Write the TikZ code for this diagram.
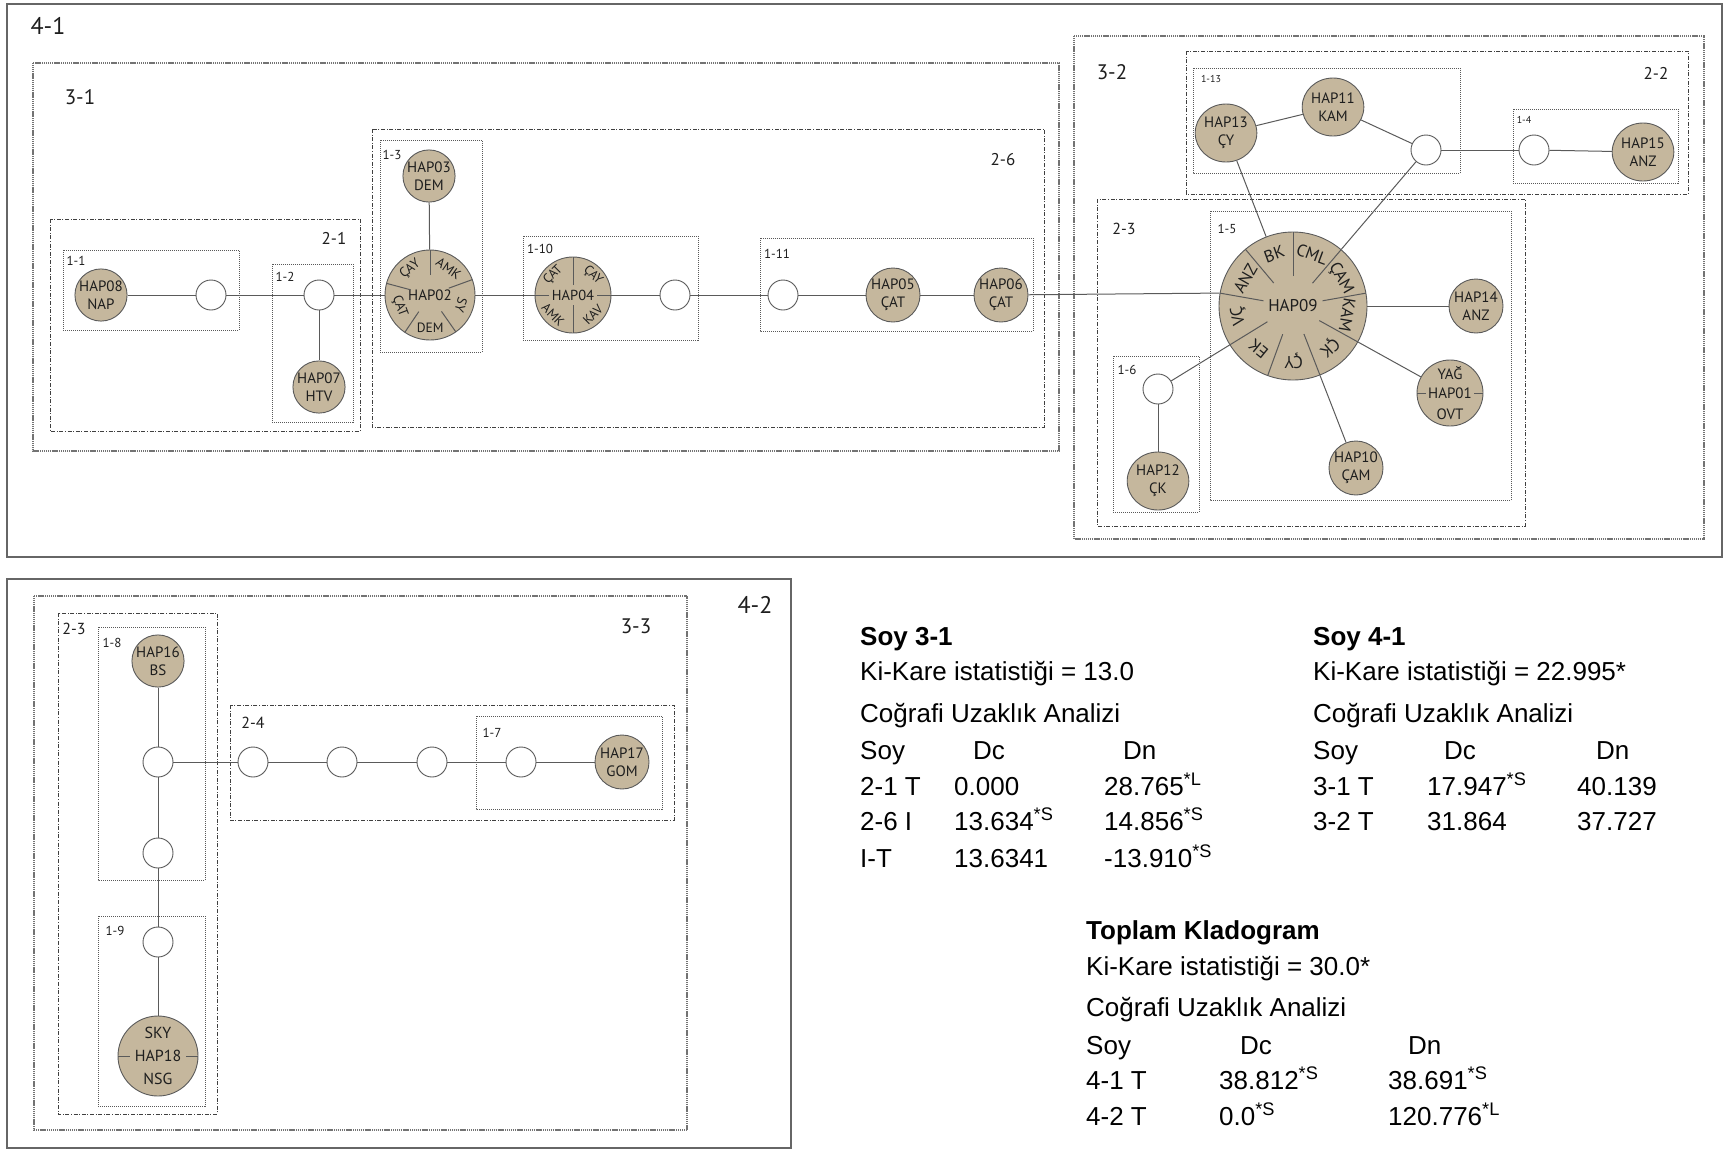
\documentclass[tikz,border=0pt]{standalone}
\usepackage{fontspec}
\setmainfont{PT Sans}
\newfontfamily\tabfont{Liberation Sans}
\usetikzlibrary{shapes.geometric}
\definecolor{tanf}{RGB}{197,183,157}
\definecolor{lnc}{RGB}{90,90,90}
\definecolor{txc}{RGB}{30,30,30}
\newcommand\fz[2]{\fontsize{#1}{#2}\selectfont}
\tikzset{
  hap/.style={circle, draw=lnc, fill=tanf, line width=0.9pt, inner sep=0pt, align=center, text=txc, font=\fz{15}{18}},
  hapE/.style={ellipse, draw=lnc, fill=tanf, line width=0.9pt, inner sep=0pt, align=center, text=txc, font=\fz{15}{18}, minimum width=51pt, minimum height=58pt},
  emp/.style={circle, draw=lnc, fill=white, line width=0.9pt, inner sep=0pt, minimum size=30pt},
  lnk/.style={draw=lnc, line width=1pt},
  sect/.style={inner sep=0pt, text=txc},
  b1/.style={draw=black!65, line width=0.8pt, dash pattern=on 1pt off 1pt},
  b2/.style={draw=black!75, line width=0.9pt, dash pattern=on 4pt off 1.6pt on 1pt off 1.6pt},
  b3/.style={draw=black!55, line width=2.6pt, dash pattern=on 1.2pt off 0.7pt},
  b4/.style={draw=black!60, line width=1.6pt},
  lab/.style={inner sep=0pt, text=txc},
  tt/.style={anchor=base west, inner sep=0pt, font=\tabfont\fz{26}{30}},
  tb/.style={anchor=base west, inner sep=0pt, font=\tabfont\bfseries\fz{26}{30}},
}
\begin{document}
\begin{tikzpicture}[x=1pt,y=-1pt]
\useasboundingbox (0,0) rectangle (1726,1149);
% ---------- boxes top ----------
\draw[b4] (7,4) rectangle (1722,557);
\draw[b3] (33,63) rectangle (1059,451);
\draw[b3] (1074,36) rectangle (1704,539);
\draw[b2] (50,219) rectangle (360,431);
\draw[b2] (372,129) rectangle (1044,427);
\draw[b2] (1186,51) rectangle (1688,194);
\draw[b2] (1097,199) rectangle (1525,526);
\draw[b1] (63,250) rectangle (239,330);
\draw[b1] (272,264) rectangle (353,422);
\draw[b1] (380,140) rectangle (482,352);
\draw[b1] (523,236) rectangle (698,340);
\draw[b1] (760,238) rectangle (1033,331);
\draw[b1] (1193,68) rectangle (1460,173);
\draw[b1] (1513,109) rectangle (1678,183);
\draw[b1] (1210,211) rectangle (1511,500);
\draw[b1] (1113,356) rectangle (1199,512);
% ---------- boxes bottom ----------
\draw[b4] (7,579) rectangle (791,1148);
\draw[b3] (34,596) rectangle (687,1130);
\draw[b2] (58,613) rectangle (217,1114);
\draw[b2] (230,705) rectangle (674,820);
\draw[b1] (98,627) rectangle (205,880);
\draw[b1] (98,916) rectangle (205,1106);
\draw[b1] (476,716) rectangle (662,809);
% ---------- box labels ----------
\node[lab, font=\fz{24}{28}] (l41) at (48,26) {4-1};
\node[lab, font=\fz{21}{24}] (l31) at (80,97) {3-1};
\node[lab, font=\fz{17}{20}] (l21) at (334,238) {2-1};
\node[lab, font=\fz{13}{15}] (l11) at (76,261) {1-1};
\node[lab, font=\fz{13}{15}] (l12) at (285,277) {1-2};
\node[lab, font=\fz{13}{15}] (l13) at (392,155) {1-3};
\node[lab, font=\fz{13}{15}] (l110) at (540,249) {1-10};
\node[lab, font=\fz{13}{15}] (l111) at (777,254) {1-11};
\node[lab, font=\fz{17}{20}] (l26) at (1003,160) {2-6};
\node[lab, font=\fz{21}{24}] (l32) at (1112,72) {3-2};
\node[lab, font=\fz{17}{20}] (l22) at (1656,73) {2-2};
\node[lab, font=\fz{10}{12}] (l113) at (1211,79) {1-13};
\node[lab, font=\fz{10}{12}] (l14) at (1524,120) {1-4};
\node[lab, font=\fz{16}{19}] (l23) at (1124,229) {2-3};
\node[lab, font=\fz{13}{15}] (l15) at (1227,229) {1-5};
\node[lab, font=\fz{13}{15}] (l16) at (1127,370) {1-6};
\node[lab, font=\fz{24}{28}] (l42) at (755,605) {4-2};
\node[lab, font=\fz{21}{24}] (l33) at (636,626) {3-3};
\node[lab, font=\fz{16}{19}] (l23b) at (74,629) {2-3};
\node[lab, font=\fz{13}{15}] (l18) at (112,643) {1-8};
\node[lab, font=\fz{16}{19}] (l24) at (253,723) {2-4};
\node[lab, font=\fz{13}{15}] (l17) at (492,733) {1-7};
\node[lab, font=\fz{13}{15}] (l19) at (115,931) {1-9};
% ---------- nodes top ----------
\node[hap, minimum size=52pt] (h08) at (101,295) {HAP08\\NAP};
\node[emp] (e1) at (211,295) {};
\node[emp] (e2) at (319,295) {};
\node[hap, minimum size=52pt] (h07) at (319,387) {HAP07\\HTV};
\node[hap, minimum size=52pt] (h03) at (429,176) {HAP03\\DEM};
\node[hap, minimum size=90pt] (h02) at (430,295) {};
\node[hap, minimum size=76pt] (h04) at (573,295) {};
\node[emp] (e3) at (675,295) {};
\node[emp] (e4) at (783,295) {};
\node[hap, minimum size=54pt] (h05) at (893,295) {HAP05\\ÇAT};
\node[hap, minimum size=54pt] (h06) at (1001,295) {HAP06\\ÇAT};
\node[hap, minimum size=148pt] (h09) at (1293,306) {};
\node[hapE] (h13) at (1226,133) {HAP13\\ÇY};
\node[hapE] (h11) at (1333,107) {HAP11\\KAM};
\node[emp] (e5) at (1426,150) {};
\node[emp] (e6) at (1534,150) {};
\node[hapE] (h15) at (1643,152) {HAP15\\ANZ};
\node[hap, minimum size=54pt] (h14) at (1476,306) {HAP14\\ANZ};
\node[hap, minimum size=66pt] (h01) at (1450,393) {};
\node[hap, minimum size=54pt] (h10) at (1356,468) {HAP10\\ÇAM};
\node[emp] (e7) at (1158,389) {};
\node[hapE] (h12) at (1158,481) {HAP12\\ÇK};
% ---------- nodes bottom ----------
\node[hap, minimum size=52pt] (h16) at (158,661) {HAP16\\BS};
\node[emp] (e8) at (158,762) {};
\node[emp] (e9) at (158,853) {};
\node[emp] (e10) at (158,942) {};
\node[hap, minimum size=80pt] (h18) at (158,1056) {};
\node[emp] (e11) at (253,762) {};
\node[emp] (e12) at (342,762) {};
\node[emp] (e13) at (432,762) {};
\node[emp] (e14) at (521,762) {};
\node[hap, minimum size=54pt] (h17) at (622,762) {HAP17\\GOM};
% ---------- connectors ----------
\draw[lnk] (h08) -- (e1);
\draw[lnk] (e1) -- (e2);
\draw[lnk] (e2) -- (h07);
\draw[lnk] (e2) -- (h02);
\draw[lnk] (h03) -- (h02);
\draw[lnk] (h02) -- (h04);
\draw[lnk] (h04) -- (e3);
\draw[lnk] (e3) -- (e4);
\draw[lnk] (e4) -- (h05);
\draw[lnk] (h05) -- (h06);
\draw[lnk] (h06) -- (h09.170);
\draw[lnk] (h13) -- (h11);
\draw[lnk] (h11) -- (e5);
\draw[lnk] (e5) -- (e6);
\draw[lnk] (e6) -- (h15);
\draw[lnk] (h13) -- (h09);
\draw[lnk] (e5) -- (h09);
\draw[lnk] (h09) -- (h14);
\draw[lnk] (h09) -- (h01);
\draw[lnk] (h09) -- (h10);
\draw[lnk] (h09) -- (e7);
\draw[lnk] (e7) -- (h12);
\draw[lnk] (h16) -- (e8);
\draw[lnk] (e8) -- (e9);
\draw[lnk] (e9) -- (e10);
\draw[lnk] (e10) -- (h18);
\draw[lnk] (e8) -- (e11);
\draw[lnk] (e11) -- (e12);
\draw[lnk] (e12) -- (e13);
\draw[lnk] (e13) -- (e14);
\draw[lnk] (e14) -- (h17);
% ---------- HAP09 sectors ----------
\node[sect, font=\fz{17}{20}] (h09t) at (h09.center) {HAP09};
\foreach \a in {90,49.5,10,-29,-68.7,-110,-148.4,170,130}
  \draw[lnk] ([shift={(\a:30pt)}]h09.center) -- ([shift={(\a:74pt)}]h09.center);
\foreach \a/\t [count=\i] in {110/BK,69.75/CML,29.75/ÇAM,-9.5/KAM,-48.85/ÇK,-89.35/ÇY,-129.2/EK,190.8/VÇ,150/ANZ}
  \node[sect, font=\fz{17}{20}, rotate=\a-90] (h09s\i) at ([shift={(\a:55pt)}]h09.center) {\t};
% ---------- HAP02 sectors ----------
\node[sect, font=\fz{15}{18}] (h02t) at (h02.center) {HAP02};
\foreach \a in {90,20,-55,-124,165}
  \draw[lnk] ([shift={(\a:20pt)}]h02.center) -- ([shift={(\a:45pt)}]h02.center);
\foreach \a/\t/\r [count=\i] in {127.5/ÇAY/37.5,55/AMK/-35,-17.5/SY/-107.5,-89.5/DEM/0,200.5/ÇAT/-69.5}
  \node[sect, font=\fz{13.5}{16}, rotate=\r] (h02s\i) at ([shift={(\a:32.5pt)}]h02.center) {\t};
% ---------- HAP04 sectors ----------
\node[sect, font=\fz{14.5}{17}] (h04t) at (h04.center) {HAP04};
\foreach \a in {90,-90}
  \draw[lnk] ([shift={(\a:10pt)}]h04.center) -- ([shift={(\a:38pt)}]h04.center);
\foreach \a in {0,180}
  \draw[lnk] ([shift={(\a:24pt)}]h04.center) -- ([shift={(\a:38pt)}]h04.center);
\foreach \a/\t/\r [count=\i] in {135/ÇAT/45,45/ÇAY/-45,225/AMK/-45,-45/KAV/45}
  \node[sect, font=\fz{13}{15}, rotate=\r] (h04s\i) at ([shift={(\a:28pt)}]h04.center) {\t};
% ---------- HAP01 / HAP18 ----------
\node[sect, font=\fz{15}{18}] (h01a) at ([yshift=20pt]h01.center) {YAĞ};
\node[sect, font=\fz{15}{18}] (h01b) at (h01.center) {HAP01};
\node[sect, font=\fz{15}{18}] (h01c) at ([yshift=-21pt]h01.center) {OVT};
\draw[lnk] ([xshift=-33pt]h01.center) -- ([xshift=-24pt]h01.center);
\draw[lnk] ([xshift=24pt]h01.center) -- ([xshift=33pt]h01.center);
\node[sect, font=\fz{16}{19}] (h18a) at ([yshift=23pt]h18.center) {SKY};
\node[sect, font=\fz{16}{19}] (h18b) at (h18.center) {HAP18};
\node[sect, font=\fz{16}{19}] (h18c) at ([yshift=-23pt]h18.center) {NSG};
\draw[lnk] ([xshift=-40pt]h18.center) -- ([xshift=-28pt]h18.center);
\draw[lnk] ([xshift=28pt]h18.center) -- ([xshift=40pt]h18.center);
% ---------- tables ----------
\node[tb] (a1) at (860,645) {Soy 3-1};
\node[tt] (a2) at (860,680) {Ki-Kare istatistiği = 13.0};
\node[tt] (a3) at (860,722) {Coğrafi Uzaklık Analizi};
\node[tt] (a4) at (860,759) {Soy};
\node[tt] (a5) at (973,759) {Dc};
\node[tt] (a6) at (1123,759) {Dn};
\node[tt] (a7) at (860,795) {2-1 T};
\node[tt] (a8) at (954,795) {0.000};
\node[tt] (a9) at (1104,795) {28.765\textsuperscript{*L}};
\node[tt] (a10) at (860,830) {2-6 I};
\node[tt] (a11) at (954,830) {13.634\textsuperscript{*S}};
\node[tt] (a12) at (1104,830) {14.856\textsuperscript{*S}};
\node[tt] (a13) at (860,867) {I-T};
\node[tt] (a14) at (954,867) {13.6341};
\node[tt] (a15) at (1104,867) {-13.910\textsuperscript{*S}};
\node[tb] (b1) at (1313,645) {Soy 4-1};
\node[tt] (b2) at (1313,680) {Ki-Kare istatistiği = 22.995*};
\node[tt] (b3) at (1313,722) {Coğrafi Uzaklık Analizi};
\node[tt] (b4) at (1313,759) {Soy};
\node[tt] (b5) at (1444,759) {Dc};
\node[tt] (b6) at (1596,759) {Dn};
\node[tt] (b7) at (1313,795) {3-1 T};
\node[tt] (b8) at (1427,795) {17.947\textsuperscript{*S}};
\node[tt] (b9) at (1577,795) {40.139};
\node[tt] (b10) at (1313,830) {3-2 T};
\node[tt] (b11) at (1427,830) {31.864};
\node[tt] (b12) at (1577,830) {37.727};
\node[tb] (c1) at (1086,939) {Toplam Kladogram};
\node[tt] (c2) at (1086,975) {Ki-Kare istatistiği = 30.0*};
\node[tt] (c3) at (1086,1016) {Coğrafi Uzaklık Analizi};
\node[tt] (c4) at (1086,1054) {Soy};
\node[tt] (c5) at (1240,1054) {Dc};
\node[tt] (c6) at (1408,1054) {Dn};
\node[tt] (c7) at (1086,1089) {4-1 T};
\node[tt] (c8) at (1219,1089) {38.812\textsuperscript{*S}};
\node[tt] (c9) at (1388,1089) {38.691\textsuperscript{*S}};
\node[tt] (c10) at (1086,1125) {4-2 T};
\node[tt] (c11) at (1219,1125) {0.0\textsuperscript{*S}};
\node[tt] (c12) at (1388,1125) {120.776\textsuperscript{*L}};
\end{tikzpicture}
\end{document}
